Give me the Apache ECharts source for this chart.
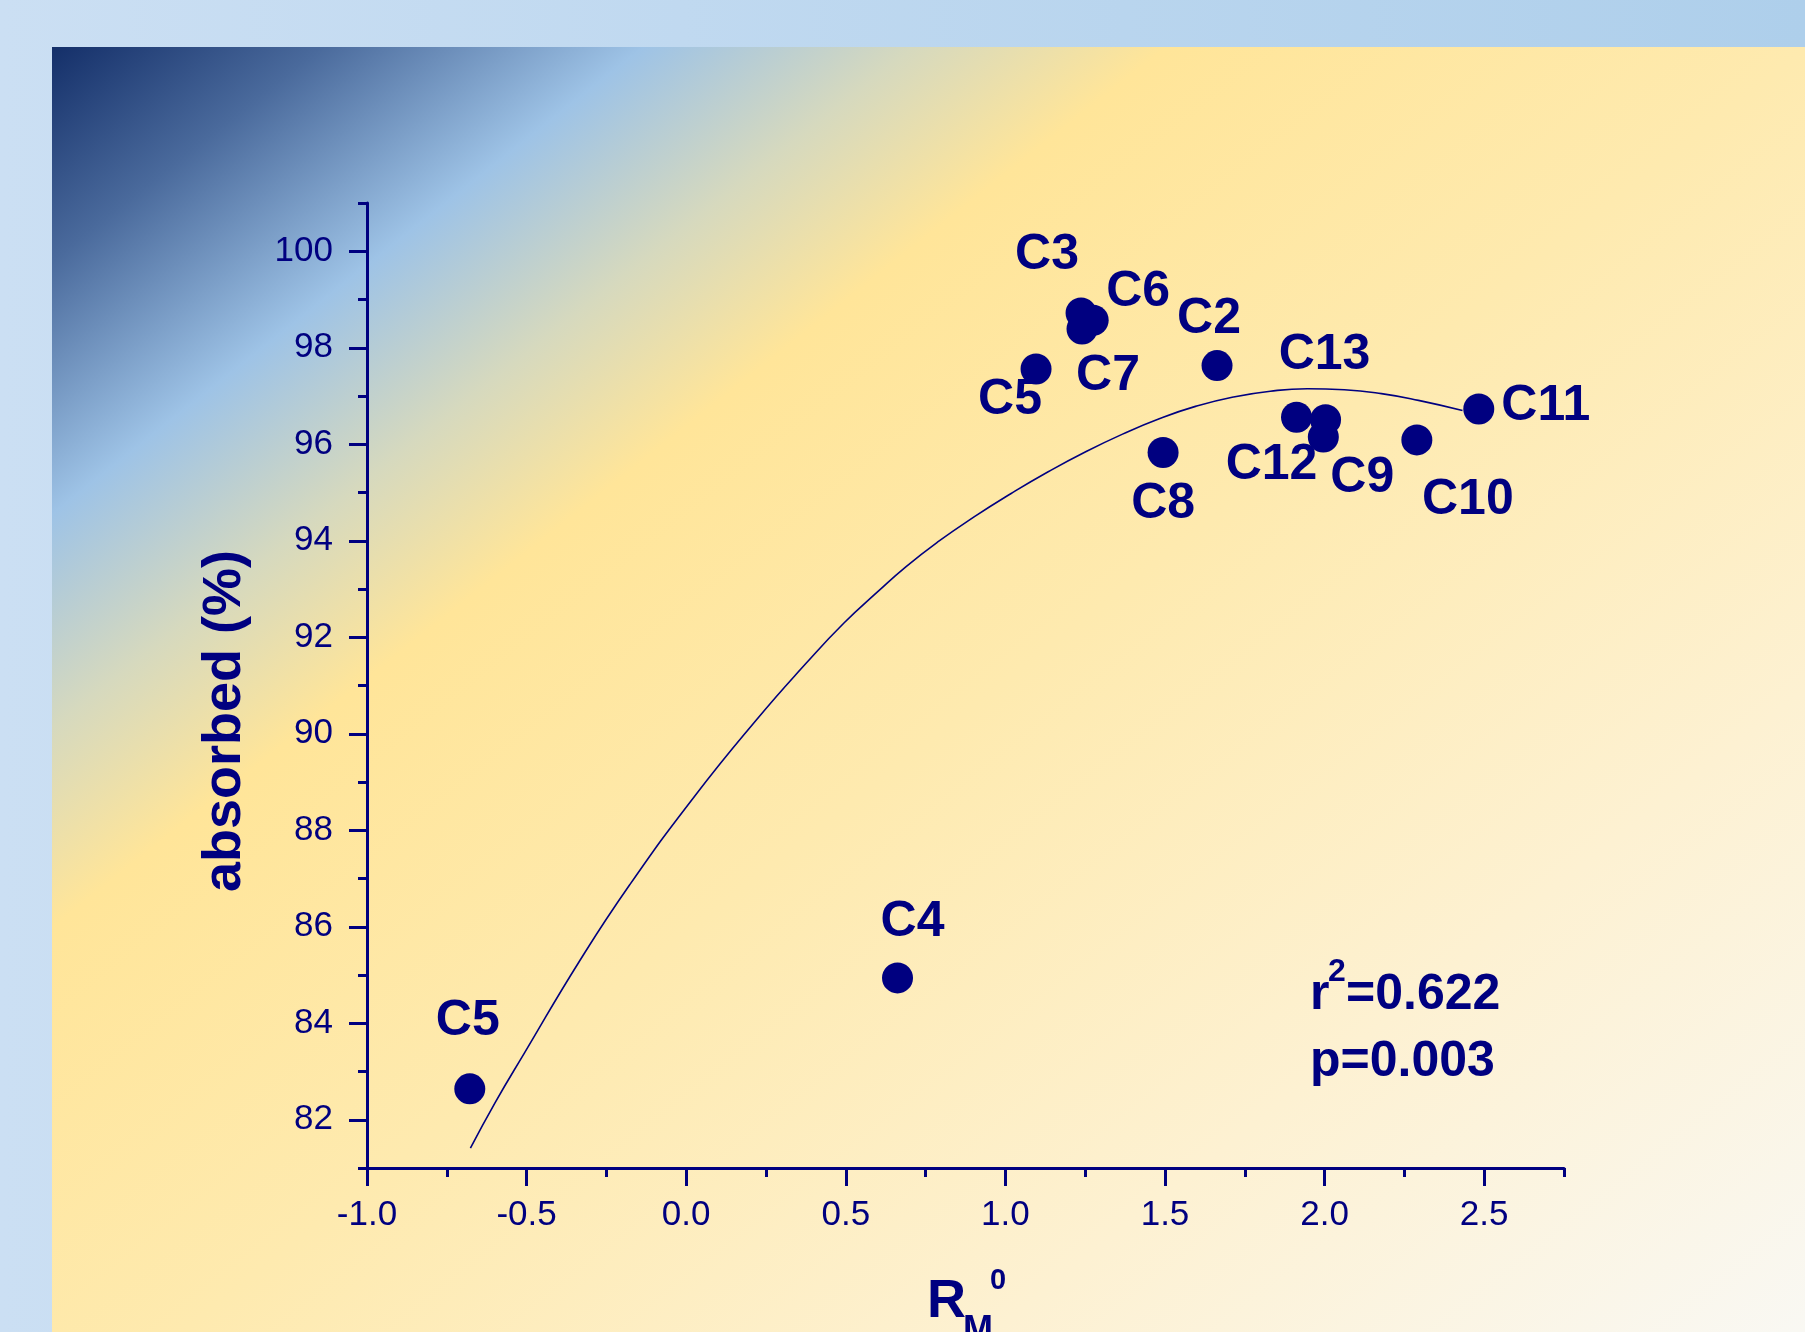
<!DOCTYPE html>
<html>
<head>
<meta charset="utf-8">
<script src="https://cdn.jsdelivr.net/npm/echarts@6/dist/echarts.min.js"></script>
<style>
html, body { margin: 0; padding: 0; background: #c8ddf1; }
#chart { width: 1805px; height: 1332px; }
</style>
</head>
<body>
<div id="chart"></div>
<script>
// ---- data ----
const names    = ['C3', 'C6', 'C7', 'C5', 'C2', 'C8', 'C12', 'C13', 'C9', 'C10', 'C11', 'C4', 'C5'];
const rm0      = [1.237, 1.275, 1.240, 1.096, 1.663, 1.494, 1.912, 2.003, 1.996, 2.289, 2.483, 0.662, -0.678];
const absorbed = [98.72, 98.57, 98.39, 97.56, 97.63, 95.83, 96.56, 96.51, 96.15, 96.09, 96.73, 84.94, 82.64];

// fitted curve, points
const fitX = [-0.676, -0.599, -0.507, -0.335, -0.177, 0.021, 0.219, 0.377, 0.495, 0.601, 0.688, 0.787, 0.903,
              1.018, 1.134, 1.250, 1.367, 1.482, 1.598, 1.714, 1.830, 1.946, 2.062, 2.178, 2.294, 2.432];
const fitY = [81.41, 82.35, 83.38, 85.28, 86.87, 88.66, 90.28, 91.47, 92.30, 92.95, 93.46, 93.97, 94.50,
              94.98, 95.43, 95.84, 96.21, 96.53, 96.79, 96.98, 97.10, 97.15, 97.13, 97.05, 96.91, 96.70];

const yMajor = [82, 84, 86, 88, 90, 92, 94, 96, 98, 100];
const yMinor = [81, 83, 85, 87, 89, 91, 93, 95, 97, 99, 101];
const xMajor = [-1.0, -0.5, 0.0, 0.5, 1.0, 1.5, 2.0, 2.5];
const xMinor = [-0.75, -0.25, 0.25, 0.75, 1.25, 1.75, 2.25, 2.75];

const yTitle = 'absorbed (%)';
const statR = 'r', statSup = '2', statRVal = '=0.622', statP = 'p=0.003';

// ---- layout (label offsets from the dot centres, px) ----
const labelOffsets = [[-34, -58], [45, -28], [26, 47], [-26, 31], [-8, -46], [0, 52], [-25, 48],
                      [-1, -64], [39, 41], [51, 60], [67, -3], [15, -56], [-2, -68]];

const NAVY = '#000080';
const FONT = '"Liberation Sans", Arial, sans-serif';

const chart = echarts.init(document.getElementById('chart'), null, { renderer: 'canvas' });

const scatterData = rm0.map((x, i) => [x, absorbed[i]]);
const fitData = fitX.map((x, i) => [x, fitY[i]]);

const tickStyle = { color: NAVY, width: 3 };

const option = {
  animation: false,
  backgroundColor: 'transparent',
  grid: { left: 367, top: 203, width: 1197, height: 965, containLabel: false },
  xAxis: [
    {
      type: 'value', min: -1, max: 2.75, position: 'bottom',
      axisLine: { show: true, onZero: false, lineStyle: { color: NAVY, width: 3 } },
      axisTick: { show: true, customValues: xMajor, length: 18, lineStyle: tickStyle },
      axisLabel: { show: true, customValues: xMajor, margin: 30, fontSize: 35, color: NAVY, fontFamily: FONT,
                   formatter: v => Number(v).toFixed(1) },
      splitLine: { show: false }
    },
    {
      type: 'value', min: -1, max: 2.75, position: 'bottom',
      axisLine: { show: false, onZero: false },
      axisTick: { show: true, customValues: xMinor, length: 9, lineStyle: tickStyle },
      axisLabel: { show: false },
      splitLine: { show: false }
    }
  ],
  yAxis: [
    {
      type: 'value', min: 81, max: 101, position: 'left',
      axisLine: { show: true, onZero: false, lineStyle: { color: NAVY, width: 3 } },
      axisTick: { show: true, customValues: yMajor, length: 18, lineStyle: tickStyle },
      axisLabel: { show: true, customValues: yMajor, margin: 34, fontSize: 35, color: NAVY, fontFamily: FONT },
      splitLine: { show: false }
    },
    {
      type: 'value', min: 81, max: 101, position: 'left',
      axisLine: { show: false, onZero: false },
      axisTick: { show: true, customValues: yMinor, length: 9, lineStyle: tickStyle },
      axisLabel: { show: false },
      splitLine: { show: false }
    }
  ],
  series: [
    {
      type: 'line', xAxisIndex: 0, yAxisIndex: 0,
      data: fitData, smooth: 0.5, showSymbol: false, symbol: 'none', clip: false,
      lineStyle: { color: NAVY, width: 1.6 }, z: 3, silent: true
    },
    {
      type: 'scatter', xAxisIndex: 0, yAxisIndex: 0,
      data: scatterData, symbol: 'circle', symbolSize: 31,
      itemStyle: { color: NAVY, opacity: 1 },
      label: {
        show: true, position: 'inside', color: NAVY,
        fontSize: 50, fontWeight: 'bold', fontFamily: FONT,
        align: 'center', verticalAlign: 'middle',
        formatter: p => names[p.dataIndex]
      },
      labelLayout: p => ({
        dx: labelOffsets[p.dataIndex][0],
        dy: labelOffsets[p.dataIndex][1],
        hideOverlap: false
      }),
      z: 4
    }
  ],
  graphic: [
    {
      type: 'rect', z: -100, silent: true,
      shape: { x: 0, y: 0, width: 1805, height: 1332 },
      style: { fill: new echarts.graphic.LinearGradient(0, 0, 1805, 0,
        [{ offset: 0, color: '#cbdff3' }, { offset: 1, color: '#aecfeb' }], true) }
    },
    {
      type: 'rect', z: -99, silent: true,
      shape: { x: 52, y: 47, width: 1753, height: 1285 },
      style: { fill: new echarts.graphic.LinearGradient(52, 47, 1350, 1690, [
        { offset: 0.00, color: '#142f69' },
        { offset: 0.08, color: '#4a6a9c' },
        { offset: 0.175, color: '#9ec3e6' },
        { offset: 0.255, color: '#d6d9be' },
        { offset: 0.33, color: '#ffe599' },
        { offset: 0.52, color: '#feeaaf' },
        { offset: 0.76, color: '#fdf1d2' },
        { offset: 1.00, color: '#f9f8f3' }
      ], true) }
    },
    {
      type: 'text', z: 10, silent: true, x: 225, y: 721, rotation: Math.PI / 2,
      style: { text: yTitle, fill: NAVY, font: 'bold 54px ' + FONT, align: 'center', verticalAlign: 'middle' }
    },
    {
      type: 'text', z: 10, silent: true, x: 927, y: 1302,
      style: { text: 'R', fill: NAVY, font: 'bold 54px ' + FONT, align: 'left', verticalAlign: 'middle' }
    },
    {
      type: 'text', z: 10, silent: true, x: 963, y: 1331,
      style: { text: 'M', fill: NAVY, font: 'bold 36px ' + FONT, align: 'left', verticalAlign: 'middle' }
    },
    {
      type: 'text', z: 10, silent: true, x: 990, y: 1281,
      style: { text: '0', fill: NAVY, font: 'bold 29px ' + FONT, align: 'left', verticalAlign: 'middle' }
    },
    {
      type: 'text', z: 10, silent: true, x: 1310, y: 995,
      style: { text: statR, fill: NAVY, font: 'bold 50px ' + FONT, align: 'left', verticalAlign: 'middle' }
    },
    {
      type: 'text', z: 10, silent: true, x: 1328, y: 972,
      style: { text: statSup, fill: NAVY, font: 'bold 32px ' + FONT, align: 'left', verticalAlign: 'middle' }
    },
    {
      type: 'text', z: 10, silent: true, x: 1346, y: 995,
      style: { text: statRVal, fill: NAVY, font: 'bold 50px ' + FONT, align: 'left', verticalAlign: 'middle' }
    },
    {
      type: 'text', z: 10, silent: true, x: 1310, y: 1062,
      style: { text: statP, fill: NAVY, font: 'bold 50px ' + FONT, align: 'left', verticalAlign: 'middle' }
    }
  ]
};

chart.setOption(option);
</script>
</body>
</html>
